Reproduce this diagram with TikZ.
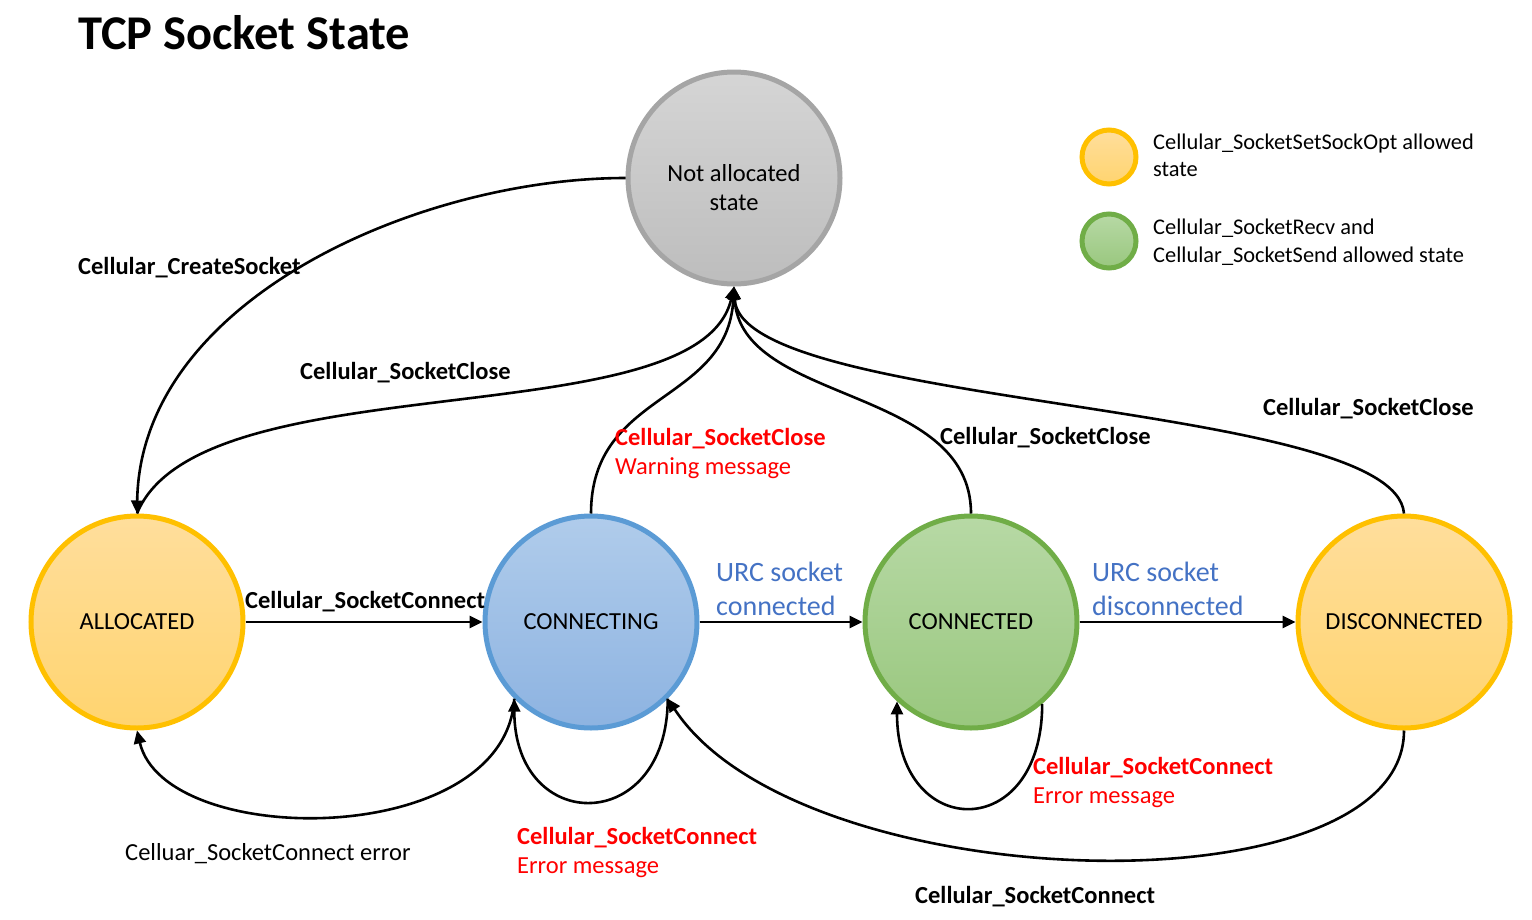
\documentclass[tikz,border=0pt]{standalone}
\usepackage{fontspec}
\setmainfont{Carlito}
\usepackage{tikz}
\usetikzlibrary{arrows.meta,positioning,calc}

\definecolor{grayline}{HTML}{A5A5A5}
\definecolor{graytop}{HTML}{D5D5D5}
\definecolor{graybot}{HTML}{BDBDBD}
\definecolor{orangeline}{HTML}{FFC000}
\definecolor{orangetop}{HTML}{FFDE9C}
\definecolor{orangebot}{HTML}{FFD46F}
\definecolor{blueline}{HTML}{5B9BD5}
\definecolor{bluetop}{HTML}{B0CCEB}
\definecolor{bluebot}{HTML}{8DB3E1}
\definecolor{greenline}{HTML}{70AD47}
\definecolor{greentop}{HTML}{B7D9A5}
\definecolor{greenbot}{HTML}{99C77E}
\definecolor{urcblue}{HTML}{4472C4}

\begin{document}
\begin{tikzpicture}[
  x=1pt, y=1pt,
  state/.style={circle, line width=5pt, minimum size=212pt, inner sep=0pt, align=center, font=\fontsize{24.5}{29}\selectfont},
  legend/.style={circle, line width=5pt, minimum size=54pt, inner sep=0pt},
  lbl/.style={anchor=base west, inner sep=0pt, font=\bfseries\fontsize{24.5}{29}\selectfont},
  note/.style={anchor=base west, inner sep=0pt, align=left, font=\fontsize{24.5}{29}\selectfont},
  urc/.style={anchor=base west, inner sep=0pt, align=left, text=urcblue, font=\fontsize{28}{34}\selectfont},
  arrow/.style={-{Triangle[length=13pt,width=12pt]}, line width=2.6pt}
]
\useasboundingbox (0,0) rectangle (1532,-919);

% Title
\node[anchor=base west, inner sep=0pt, font=\bfseries\fontsize{48.5}{56}\selectfont] (title) at (78,-49) {TCP Socket State};

% States
\node[state, draw=grayline, top color=graytop, bottom color=graybot,
  label={[font=\fontsize{24.5}{29}\selectfont, align=center, yshift=-10pt]center:Not allocated\\state}] (notalloc) at (734,-178) {};
\node[state, draw=orangeline, top color=orangetop, bottom color=orangebot] (alloc) at (137,-622) {ALLOCATED};
\node[state, draw=blueline, top color=bluetop, bottom color=bluebot] (connecting) at (591,-622) {CONNECTING};
\node[state, draw=greenline, top color=greentop, bottom color=greenbot] (connected) at (971,-622) {CONNECTED};
\node[state, draw=orangeline, top color=orangetop, bottom color=orangebot] (disconn) at (1404,-622) {DISCONNECTED};

% Legend
\node[legend, draw=orangeline, top color=orangetop, bottom color=orangebot] (legopt) at (1109,-157) {};
\node[legend, draw=greenline, top color=greentop, bottom color=greenbot] (legrecv) at (1109,-241) {};
\node[note, font=\fontsize{22.4}{27}\selectfont] (legopttext) at (1153,-176) {Cellular\_SocketSetSockOpt allowed\\state};
\node[note, font=\fontsize{22.4}{28}\selectfont] (legrecvtext) at (1153,-262) {Cellular\_SocketRecv and\\Cellular\_SocketSend allowed state};

% Transitions to and from not allocated
\draw[arrow] (notalloc.west) .. controls +(-206,0) and +(3,214) .. (alloc.north);
\draw[arrow] (alloc.north) .. controls +(63,154) and +(-34,-153) .. (notalloc.south);
\draw[arrow] (connecting.north) .. controls +(0,123.5) and +(-6,-118) .. (notalloc.south);
\draw[arrow] (connected.north) .. controls +(0,128.5) and +(6,-118) .. (notalloc.south);
\draw[arrow] (disconn.north) .. controls +(-9,113.5) and +(6,-123) .. (notalloc.south);

% Straight transitions
\draw[arrow] (alloc.east) -- (connecting.west);
\draw[arrow] (connecting.east) -- (connected.west);
\draw[arrow] (connected.east) -- (disconn.west);

% Transitions below the states
\draw[arrow] (connecting.-135) .. controls +(-9,-151) and +(28,-119.5) .. (alloc.south);
\draw[arrow] (connecting.-45) .. controls +(0,-137) and +(0,-137) .. (connecting.-135);
\draw[arrow] (connected.-49) .. controls +(0,-140) and +(0,-140) .. (connected.-133);
\draw[arrow] (disconn.south) .. controls +(0,-184.5) and +(132,-201) .. (connecting.-45);

% Labels
\node[lbl] (lcreate) at (78,-274) {Cellular\_CreateSocket};
\node[lbl] (lclosealloc) at (300,-379) {Cellular\_SocketClose};
\node[note, text=red] (lcloseconnecting) at (615,-474) {\textbf{Cellular\_SocketClose}\\Warning message};
\node[lbl] (lcloseconnected) at (940,-444) {Cellular\_SocketClose};
\node[lbl] (lclosedisconn) at (1263,-415) {Cellular\_SocketClose};
\node[lbl] (lconnect) at (245,-608) {Cellular\_SocketConnect};
\node[urc] (lurcconn) at (716,-615) {URC socket\\connected};
\node[urc] (lurcdisc) at (1092,-615) {URC socket\\disconnected};
\node[note] (lerror) at (125,-860) {Celluar\_SocketConnect error};
\node[note, text=red] (lerrconnecting) at (517,-873) {\textbf{Cellular\_SocketConnect}\\Error message};
\node[note, text=red] (lerrconnected) at (1033,-803) {\textbf{Cellular\_SocketConnect}\\Error message};
\node[lbl] (lreconnect) at (915,-903) {Cellular\_SocketConnect};

\end{tikzpicture}
\end{document}
